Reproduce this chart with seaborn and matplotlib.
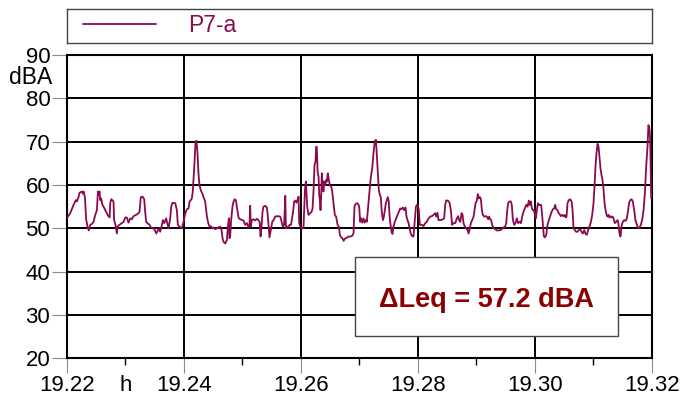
import numpy as np
import pandas as pd
import matplotlib
matplotlib.use("Agg")
import matplotlib.pyplot as plt
import seaborn as sns
from matplotlib.ticker import MultipleLocator
from matplotlib.patches import Rectangle
from matplotlib.transforms import blended_transform_factory

# ---------------- data ----------------
start_hour = 19.22
series_label = "P7-a"

# seconds after 19.22 h
seconds = [
    0, 2.2, 4.2, 5.6, 6.3, 7.3, 7.9, 9.3, 9.9, 10.4, 11.2, 12.0, 12.8, 13.6, 14.5, 15.5, 16.5, 17.5, 18.6, 19.2,
    19.8, 20.2, 20.6, 21.2, 22.0, 22.7, 23.7, 24.7, 25.3, 26.4, 26.8, 27.4, 28.4, 28.8, 29.2, 30.0, 30.9, 31.3, 32.5, 33.9,
    35.0, 36.0, 37.0, 38.0, 39.1, 40.1, 41.1, 42.1, 43.2, 44.2, 44.8, 45.6, 46.7, 47.7, 48.3, 48.9, 49.7, 51.0, 51.8, 53.0,
    54.0, 55.1, 56.1, 56.9, 57.5, 58.6, 59.2, 60.0, 61.2, 62.0, 62.7, 63.7, 64.3, 65.1, 66.8, 67.8, 68.4, 69.4,
    70.9, 71.9, 73.0, 74.0, 75.0, 75.6, 76.4, 77.0, 77.6, 78.5, 79.3, 79.9, 80.5, 81.1, 81.7, 82.6, 83.4, 84.2, 85.2, 86.3,
    87.1, 87.9, 88.7, 89.5, 90.4, 91.4, 92.4, 93.4, 94.5, 95.3, 95.9, 96.5, 97.5, 98.6, 99.2, 99.8, 100.2, 100.6, 101.2, 102.0,
    102.7, 103.3, 104.1, 104.7, 105.3, 105.9, 106.8, 107.8, 108.8, 109.8, 110.9, 111.9, 112.5, 112.9, 113.3, 113.9, 115.0, 116.0, 117.0, 118.0,
    118.7, 119.3, 119.9, 120.5, 121.1, 122.1, 123.2, 123.8, 124.4, 124.8, 125.6, 126.5, 127.3, 128.3, 129.3, 130.4, 131.4, 132.0, 133.0, 133.8,
    134.5, 134.9, 135.5, 136.5, 137.1, 138.0, 139.2, 140.0, 140.8, 141.4, 142.0, 142.7, 143.1, 143.7, 144.5, 145.7, 146.6, 147.2,
    148.0, 148.8, 149.8, 150.7, 151.3, 151.9, 152.5, 153.1, 153.5, 153.9, 154.4, 155.0, 155.4, 155.8, 156.2, 156.6, 157.0, 157.4, 158.0, 158.5,
    159.1, 159.7, 160.1, 160.7, 161.3, 161.9, 162.8, 163.4, 164.2, 165.0, 165.8, 166.7, 167.5, 168.1, 168.9, 169.7, 170.4, 171.4, 172.4, 173.4,
    174.5, 175.5, 176.5, 177.1, 177.7, 178.6, 179.4, 180.0, 180.6, 181.2, 181.8, 182.7, 183.3, 184.1, 184.7, 185.5, 186.4, 187.2, 188.0, 188.8,
    189.6, 190.3, 190.9, 191.5, 192.1, 192.7, 193.3, 193.9, 194.6, 195.2, 195.8, 196.4, 197.0, 197.6, 198.2, 198.7, 199.3, 199.9, 200.5, 201.1,
    201.9, 202.8, 203.6, 204.4, 205.2, 206.0, 206.9, 207.7, 208.5, 209.1, 209.7, 210.4, 211.0, 211.8, 212.6, 213.4, 214.2, 214.9, 215.5, 216.1,
    216.7, 217.3,
    218.6, 219.6, 220.6, 221.6, 222.7, 223.7, 224.7, 225.7, 226.8, 227.4, 228.2, 228.8, 229.4, 230.3, 231.5, 232.3, 232.9, 233.5, 234.6, 235.6,
    236.4, 237.2, 238.1, 239.1, 240.1, 240.9, 241.5, 242.2, 243.0, 243.6, 244.2, 245.0, 245.8, 246.7, 247.3, 247.9, 248.7, 249.5, 250.4, 251.0,
    251.6, 252.4, 253.0, 253.6, 254.3, 254.9, 255.5, 256.1, 256.9, 257.7, 258.6, 259.4, 260.0, 260.6, 261.2, 261.8, 262.7, 263.7, 264.7, 265.7,
    266.8, 267.8, 268.8, 269.8, 270.5, 271.1, 271.7, 272.5, 273.3, 273.9, 274.6, 275.4, 276.2, 277.0, 277.8, 278.7, 279.5, 280.3, 281.1, 281.9,
    282.8, 283.6, 284.4, 285.0, 285.6, 286.3, 286.9, 287.5, 288.1, 288.7, 289.3, 290.0, 290.6, 292.0,
    293.0, 293.6, 294.3, 295.1, 295.9, 296.7, 297.5, 298.4, 299.2, 300.0, 300.6, 301.2, 302.0, 302.7, 303.3, 304.1, 304.9, 305.7, 306.4, 307.0,
    307.6, 308.2, 309.0, 309.8, 310.7, 311.3, 311.9, 312.7, 313.5, 314.3, 315.2, 316.0, 316.8, 317.6, 318.5, 319.3, 320.1, 320.9, 321.7, 322.6,
    323.4, 324.2, 324.8, 325.4, 326.0, 326.7, 327.3, 327.9, 328.5, 329.1, 329.7, 330.3, 331.0, 331.6, 332.2, 332.8, 333.4, 334.0, 334.7, 335.3,
    335.9, 336.5, 337.3, 338.1, 339.0, 339.6, 340.2, 340.8, 341.4, 342.2, 343.1, 343.9, 344.7, 345.5, 346.1, 346.8, 347.6, 348.4, 349.2, 350.0,
    350.9, 351.7, 352.5, 353.3, 354.1, 355.0, 355.8, 356.6, 357.4, 358.0, 358.7, 359.1, 359.7,
]

# sound level, dBA
level_dba = [
    52.3, 53.5, 55.4, 56.5, 56.2, 57.2, 58.2, 58.5, 58.0, 58.5, 57.2, 52.0, 50.4, 49.5, 50.8, 51.0, 51.5, 53.0, 54.2, 58.5,
    57.7, 58.5, 56.5, 56.9, 55.4, 55.0, 54.2, 53.5, 53.0, 52.5, 55.8, 56.7, 56.4, 56.2, 51.9, 50.8, 48.8, 50.4, 50.8, 51.2,
    51.5, 52.5, 52.5, 51.3, 52.3, 52.1, 52.8, 53.0, 53.2, 53.5, 53.8, 57.2, 57.3, 56.7, 53.8, 51.5, 51.2, 50.8, 50.2, 50.0,
    49.8, 48.8, 49.5, 50.0, 49.2, 50.8, 51.9, 51.2, 52.3, 51.0, 50.0, 52.3, 55.0, 55.9, 55.8, 54.2, 50.8, 50.4,
    50.0, 51.5, 53.5, 54.4, 54.6, 56.2, 56.5, 56.9, 58.5, 64.2, 70.0, 70.2, 67.3, 62.7, 60.0, 58.7, 58.1, 57.2, 56.2, 52.7,
    51.2, 50.4, 50.5, 50.0, 50.2, 49.8, 50.0, 50.2, 50.4, 49.6, 47.7, 46.9, 46.5, 47.3, 50.4, 52.3, 47.7, 48.2, 51.9, 55.0,
    56.2, 56.7, 56.5, 55.0, 53.5, 52.3, 52.1, 51.9, 51.8, 50.8, 51.2, 50.2, 50.8, 55.2, 50.4, 51.9, 52.1, 51.8, 52.2, 51.9,
    51.5, 48.1, 50.4, 53.8, 55.0, 55.2, 54.8, 52.7, 50.0, 47.9, 49.6, 51.5, 51.9, 52.7, 52.8, 52.8, 52.7, 51.9, 50.4, 50.8,
    57.5, 50.0, 50.4, 50.2, 50.8, 50.8, 53.5, 56.2, 56.4, 55.9, 56.5, 57.3, 51.2, 50.4, 50.0, 50.0, 58.8, 60.8,
    55.0, 53.1, 53.5, 53.8, 54.6, 58.8, 64.6, 65.4, 68.8, 68.8, 63.1, 61.9, 57.7, 56.5, 54.2, 57.3, 62.7, 60.8, 58.5, 60.8,
    60.0, 61.2, 60.8, 62.7, 61.2, 60.0, 59.6, 58.5, 55.8, 53.1, 52.7, 50.8, 50.4, 48.5, 47.9, 47.7, 47.1, 47.7, 47.8, 48.1,
    48.1, 48.2, 48.8, 55.0, 55.6, 55.8, 55.6, 55.0, 51.5, 52.3, 51.3, 52.3, 51.3, 51.9, 51.5, 55.0, 58.8, 61.9, 63.8, 67.3,
    70.2, 70.4, 66.5, 62.7, 58.8, 57.7, 57.2, 53.8, 51.9, 52.7, 54.2, 55.8, 56.5, 57.2, 56.2, 52.7, 50.8, 49.2, 48.7, 50.4,
    51.5, 52.3, 53.1, 53.8, 54.6, 54.4, 54.8, 54.2, 54.8, 52.7, 51.9, 51.2, 50.0, 48.7, 48.2, 48.1, 51.9, 55.0, 55.4, 55.2,
    54.2, 50.8,
    50.8, 50.5, 51.2, 51.5, 52.3, 52.7, 52.8, 53.1, 53.5, 52.7, 53.6, 51.9, 51.9, 51.9, 52.1, 52.3, 55.4, 56.4, 56.4, 55.9,
    54.2, 50.8, 51.2, 51.2, 52.3, 52.8, 51.9, 51.5, 53.5, 53.1, 51.2, 50.4, 50.0, 49.6, 48.8, 49.6, 51.2, 51.9, 52.7, 54.2,
    55.8, 56.4, 57.9, 56.9, 57.2, 56.7, 54.2, 53.1, 52.7, 52.8, 52.7, 52.1, 52.7, 52.1, 51.9, 50.8, 50.0, 49.8, 49.5, 49.5,
    49.6, 49.8, 50.2, 50.4, 51.2, 54.2, 55.9, 56.2, 56.2, 55.4, 51.9, 50.8, 51.2, 52.3, 51.2, 51.5, 51.2, 52.7, 53.8, 54.6,
    55.4, 55.0, 56.4, 55.4, 56.2, 54.6, 54.2, 54.2, 53.1, 52.3, 54.2, 55.8, 55.4, 55.4,
    51.2, 48.2, 47.9, 48.5, 50.8, 51.9, 52.8, 53.8, 54.4, 54.6, 55.4, 54.4, 54.2, 53.5, 53.3, 52.8, 53.1, 52.8, 53.1, 52.5,
    52.7, 55.8, 56.5, 56.7, 56.2, 54.2, 50.0, 49.6, 49.2, 49.2, 49.6, 49.8, 49.2, 48.8, 49.6, 48.7, 48.5, 49.6, 50.4, 51.5,
    53.1, 55.8, 59.6, 64.2, 67.3, 69.5, 68.8, 66.2, 63.8, 62.3, 61.2, 59.2, 55.8, 54.2, 53.1, 52.7, 53.1, 52.5, 52.8, 52.5,
    52.7, 52.3, 51.2, 51.5, 51.9, 50.8, 48.8, 48.1, 50.4, 51.5, 51.9, 51.7, 52.3, 54.2, 55.9, 56.5, 56.7, 56.2, 54.2, 51.9,
    50.8, 50.0, 50.2, 50.8, 51.9, 54.2, 58.1, 64.2, 68.8, 73.8, 72.7, 69.6, 56.9,
]

x_ticks = [19.22, 19.24, 19.26, 19.28, 19.30, 19.32]
x_tick_labels = ["19.22", "19.24", "19.26", "19.28", "19.30", "19.32"]
y_ticks = [20, 30, 40, 50, 60, 70, 80, 90]
x_unit = "h"
y_unit = "dBA"
leq_text = "\u0394Leq = 57.2 dBA"

# ---------------- style ----------------
sns.set_style("white")
plt.rcParams["font.family"] = ["Liberation Sans", "DejaVu Sans"]

LINE = "#8b0a50"
TEXT_RED = "#8b0000"

df = pd.DataFrame({"hour": start_hour + np.asarray(seconds) / 3600.0,
                   "dBA": level_dba})

W, H = 682, 401
L, R, T, B = 66.7, 651.7, 55.0, 358.3
fig = plt.figure(figsize=(W / 100, H / 100), dpi=100)
ax = fig.add_axes([L / W, 1 - B / H, (R - L) / W, (B - T) / H])

sns.lineplot(data=df, x="hour", y="dBA", ax=ax, color=LINE, linewidth=1.3,
             estimator=None, sort=False, label=series_label, legend=False, zorder=3)

ax.set_xlim(19.22, 19.32)
ax.set_ylim(20, 90)
ax.set_xticks(x_ticks)
ax.set_xticklabels(x_tick_labels)
ax.set_yticks(y_ticks)
ax.xaxis.set_minor_locator(MultipleLocator(0.01))
ax.set_xlabel("")
ax.set_ylabel("")

ax.grid(True, which="major", color="black", linewidth=1.4, zorder=1)
ax.set_axisbelow(True)
for s in ax.spines.values():
    s.set_color("black")
    s.set_linewidth(1.5)

ax.tick_params(axis="both", which="major", direction="out", length=10.8, width=0.8,
               color="#8c8c8c", labelsize=16, pad=1, bottom=True, left=True,
               labelcolor="black")
ax.tick_params(axis="x", which="minor", direction="out", length=5, width=1.0,
               color="black", bottom=True)

# axis unit labels
ax.text(-0.025, 84.7, y_unit, transform=blended_transform_factory(ax.transAxes, ax.transData),
        ha="right", va="center", fontsize=16.5, color="black")
ax.text(19.23, -0.054, x_unit, transform=blended_transform_factory(ax.transData, ax.transAxes),
        ha="center", va="top", fontsize=16, color="black")

# Leq box
ax.add_patch(Rectangle((0.493, 0.0735), 0.449, 0.2605, transform=ax.transAxes,
                       facecolor="white", edgecolor="#454545", linewidth=1.0, zorder=4))
ax.text(0.718, 0.170, leq_text, transform=ax.transAxes, ha="center", va="baseline",
        fontsize=19.5, fontweight="bold", color=TEXT_RED, zorder=5)

# legend box above the plot
ax_leg = fig.add_axes([L / W, 1 - 42.7 / H, (R - L) / W, 33.4 / H])
ax_leg.set_xticks([])
ax_leg.set_yticks([])
ax_leg.set_facecolor("white")
for s in ax_leg.spines.values():
    s.set_color("#444444")
    s.set_linewidth(1.0)
ax_leg.legend(handles=[ax.lines[0]], labels=[series_label], loc="center left",
              frameon=False, fontsize=16.5, handlelength=3.2, handletextpad=1.4,
              borderaxespad=0.3, labelcolor="linecolor")

fig.savefig("out.png", dpi=100)
